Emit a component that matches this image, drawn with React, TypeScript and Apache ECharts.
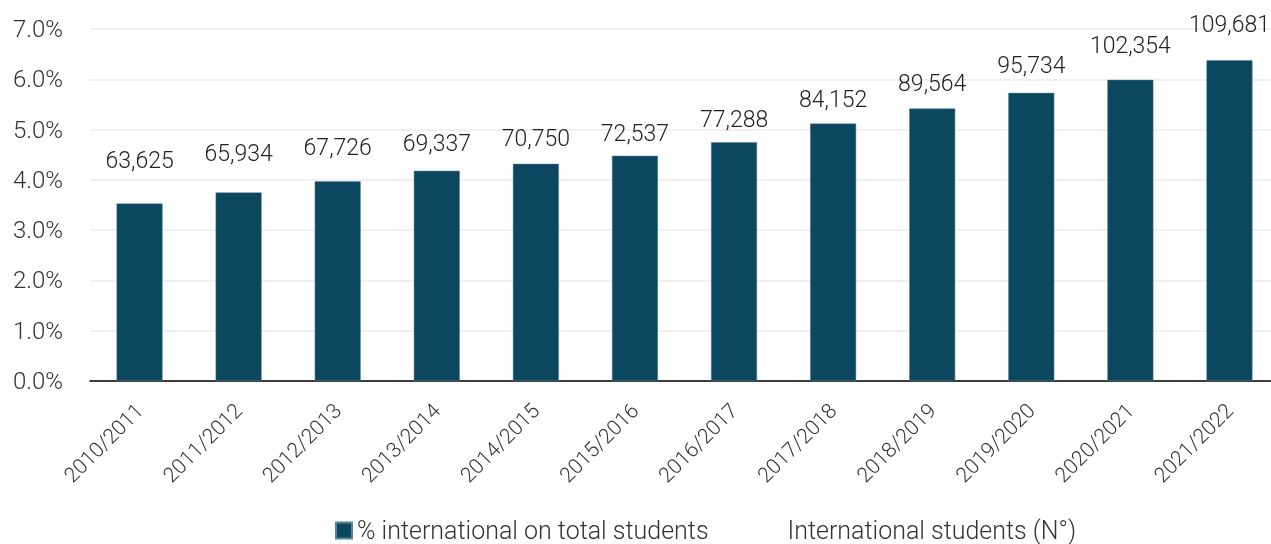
import React, { useEffect, useRef } from "react";
import * as echarts from "echarts";

const categories = [
  "2010/2011", "2011/2012", "2012/2013", "2013/2014", "2014/2015", "2015/2016",
  "2016/2017", "2017/2018", "2018/2019", "2019/2020", "2020/2021", "2021/2022",
];
const pctInternational = [3.53, 3.75, 3.97, 4.18, 4.32, 4.48, 4.75, 5.12, 5.42, 5.73, 5.99, 6.38];
const internationalStudents = [63625, 65934, 67726, 69337, 70750, 72537, 77288, 84152, 89564, 95734, 102354, 109681];
const seriesNames = ["% international on total students", "International students (N°)"];

const FONT = "Roboto";

export default function App() {
  const ref = useRef<HTMLDivElement>(null);
  useEffect(() => {
    if (!ref.current) return;
    const chart = echarts.init(ref.current, null, { renderer: "svg" });
    chart.setOption({
      animation: false,
      textStyle: { fontFamily: FONT, fontWeight: 300 },
      grid: {
        left: 90,
        top: 29,
        height: 352,
        width: 1189,
        containLabel: false,
        outerBoundsMode: "none",
      },
      legend: {
        left: 335,
        top: 518,
        padding: 0,
        itemWidth: 16,
        itemHeight: 16,
        itemGap: 58,
        icon: "rect",
        textStyle: {
          fontSize: 25,
          lineHeight: 24,
          color: "#333",
          fontFamily: FONT,
          fontWeight: 300,
        },
        data: [
          { name: seriesNames[0] },
          { name: seriesNames[1], itemStyle: { opacity: 0 } },
        ],
      },
      xAxis: {
        type: "category",
        data: categories,
        axisLine: { lineStyle: { color: "#000", width: 1.5 } },
        axisTick: { show: false },
        axisLabel: {
          rotate: 45,
          fontSize: 21,
          color: "#333",
          margin: 26,
          fontFamily: FONT,
          fontWeight: 300,
        },
      },
      yAxis: [
        {
          type: "value",
          min: 0,
          max: 7,
          interval: 1,
          axisLine: { show: false },
          axisTick: { show: false },
          splitLine: { lineStyle: { color: "#ebebeb", width: 1.5 } },
          axisLabel: {
            formatter: (v: number) => v.toFixed(1) + "%",
            fontSize: 24,
            color: "#333",
            margin: 27,
            fontFamily: FONT,
            fontWeight: 300,
          },
        },
        {
          type: "value",
          min: -5455,
          max: 113745,
          show: false,
          splitLine: { show: false },
        },
      ],
      series: [
        {
          name: seriesNames[0],
          type: "bar",
          data: pctInternational,
          barWidth: 46,
          itemStyle: { color: "#0b475e", borderColor: "#5b8596", borderWidth: 0.5 },
        },
        {
          name: seriesNames[1],
          type: "line",
          yAxisIndex: 1,
          data: internationalStudents,
          symbol: "circle",
          symbolSize: 1,
          showSymbol: true,
          lineStyle: { opacity: 0 },
          itemStyle: { color: "rgba(0,0,0,0)" },
          label: {
            show: true,
            position: "top",
            distance: 5,
            fontSize: 23,
            color: "#222",
            fontFamily: FONT,
            fontWeight: 300,
            formatter: (p: any) => Number(p.value).toLocaleString("en-US"),
          },
        },
      ],
    });
    return () => chart.dispose();
  }, []);
  return (
    <div
      ref={ref}
      style={{ position: "fixed", left: 0, top: 0, width: 1271, height: 544 }}
    />
  );
}
